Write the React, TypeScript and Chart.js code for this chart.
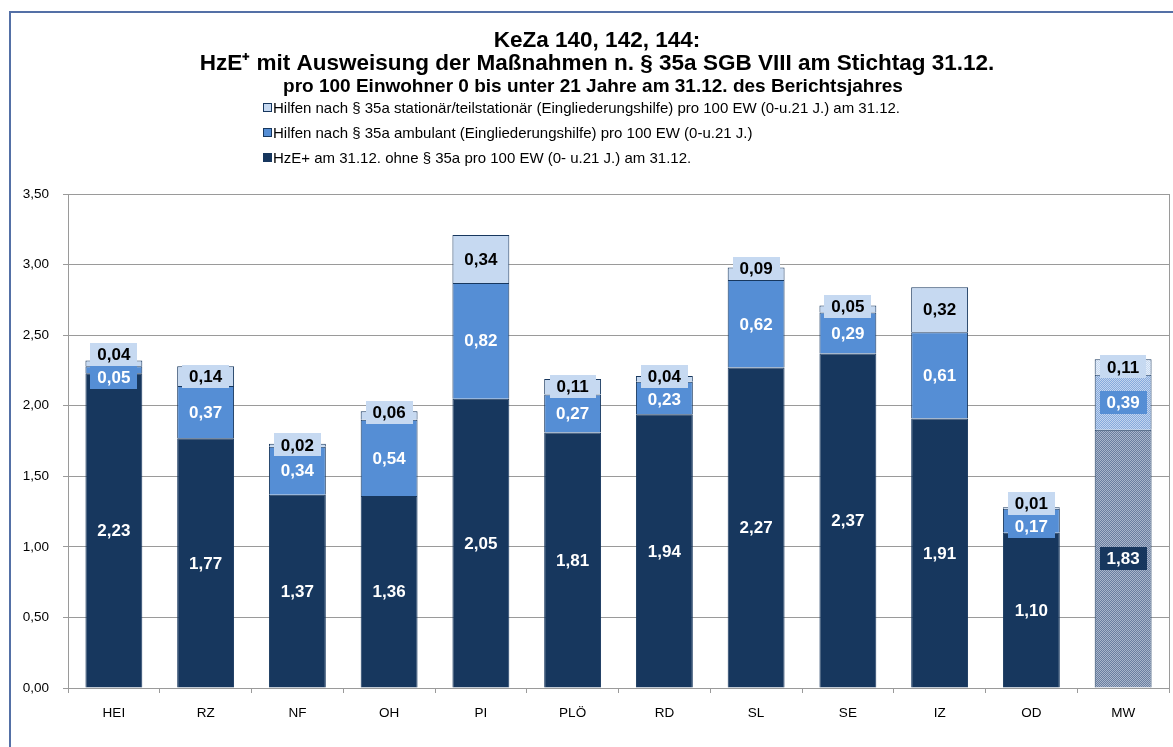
import React, { useEffect, useRef } from 'react';
import { Chart, registerables } from 'chart.js';

Chart.register(...registerables);

const categories = ['HEI', 'RZ', 'NF', 'OH', 'PI', 'PLÖ', 'RD', 'SL', 'SE', 'IZ', 'OD', 'MW'];
const ohneValues = [2.23, 1.77, 1.37, 1.36, 2.05, 1.81, 1.94, 2.27, 2.37, 1.91, 1.10, 1.83];
const ambulantValues = [0.05, 0.37, 0.34, 0.54, 0.82, 0.27, 0.23, 0.62, 0.29, 0.61, 0.17, 0.39];
const stationaerValues = [0.04, 0.14, 0.02, 0.06, 0.34, 0.11, 0.04, 0.09, 0.05, 0.32, 0.01, 0.11];

const seriesLabels = [
  'HzE+ am 31.12. ohne § 35a pro 100 EW (0- u.21 J.) am 31.12.',
  'Hilfen nach § 35a ambulant (Eingliederungshilfe) pro 100 EW (0-u.21 J.)',
  'Hilfen nach § 35a stationär/teilstationär (Eingliederungshilfe) pro 100 EW (0-u.21 J.) am 31.12.',
];
const titleLines = [
  'KeZa 140, 142, 144:',
  'HzE⁺ mit Ausweisung der Maßnahmen n. § 35a SGB VIII am Stichtag 31.12.',
];
const subtitleLine = 'pro 100 Einwohner 0 bis unter 21 Jahre am 31.12. des Berichtsjahres';
const averageCategory = 'MW';

const FONT = '"Liberation Sans", Arial, Helvetica, sans-serif';
const NAVY = '#17375E';
const MID = '#558ED5';
const LIGHT = '#C6D9F1';
const textColors = ['#FFFFFF', '#FFFFFF', '#000000'];
const seriesColors = [NAVY, MID, LIGHT];

function makePattern(a: string, b: string): CanvasPattern | string {
  const c = document.createElement('canvas');
  c.width = 2;
  c.height = 2;
  const g = c.getContext('2d');
  if (!g) return a;
  g.fillStyle = a;
  g.fillRect(0, 0, 2, 2);
  g.fillStyle = b;
  g.fillRect(0, 0, 1, 1);
  g.fillRect(1, 1, 1, 1);
  const p = g.createPattern(c, 'repeat');
  return p || a;
}

const fmt = (v: number) => v.toFixed(2).replace('.', ',');

const chromePlugin = {
  id: 'chrome',
  beforeDraw(chart: any) {
    const ctx = chart.ctx as CanvasRenderingContext2D;
    ctx.save();
    ctx.fillStyle = '#FFFFFF';
    ctx.fillRect(0, 0, chart.width, chart.height);
    // outer frame
    ctx.strokeStyle = '#5470A6';
    ctx.lineWidth = 2;
    ctx.strokeRect(10, 12, chart.width + 20, chart.height + 20);
    // titles
    const cx = 597;
    ctx.fillStyle = '#000';
    ctx.textAlign = 'center';
    ctx.textBaseline = 'middle';
    ctx.font = `bold 22.5px ${FONT}`;
    ctx.fillText(titleLines[0], cx, 41);
    ctx.fillText(titleLines[1], cx, 64);
    ctx.font = `bold 19px ${FONT}`;
    ctx.fillText(subtitleLine, cx - 4, 87);
    // legend (reverse order)
    ctx.textAlign = 'left';
    ctx.font = `15px ${FONT}`;
    const rows = [108, 133, 158];
    for (let k = 0; k < 3; k++) {
      const di = 2 - k;
      const y = rows[k];
      ctx.fillStyle = seriesColors[di];
      ctx.fillRect(263.5, y - 4.5, 8, 8);
      ctx.strokeStyle = NAVY;
      ctx.lineWidth = 1;
      ctx.strokeRect(263.5, y - 4.5, 8, 8);
      ctx.fillStyle = '#000';
      ctx.fillText(chart.data.datasets[di].label, 273, y + 0.5);
    }
    ctx.restore();
  },
  afterDraw(chart: any) {
    const { ctx, chartArea } = chart;
    ctx.save();
    ctx.strokeStyle = '#9A9A9A';
    ctx.lineWidth = 1;
    ctx.beginPath();
    ctx.moveTo(Math.round(chartArea.right) + 0.5, chartArea.top);
    ctx.lineTo(Math.round(chartArea.right) + 0.5, chartArea.bottom);
    ctx.stroke();
    ctx.restore();
  },
};

const labelPlugin = {
  id: 'segLabels',
  afterDatasetsDraw(chart: any) {
    const ctx = chart.ctx as CanvasRenderingContext2D;
    const H = 23;
    ctx.save();
    ctx.font = `bold 17px ${FONT}`;
    ctx.textAlign = 'center';
    ctx.textBaseline = 'middle';
    const n = chart.data.labels.length;
    for (let j = 0; j < n; j++) {
      const b0 = chart.getDatasetMeta(0).data[j];
      const b1 = chart.getDatasetMeta(1).data[j];
      const b2 = chart.getDatasetMeta(2).data[j];
      const c0 = (b0.y + b0.base) / 2;
      let c1 = (b1.y + b1.base) / 2;
      const h2 = b2.base - b2.y;
      let c2 = h2 < 14 ? b2.y + 1 : (b2.y + b2.base) / 2;
      if (c1 - c2 < H) {
        const need = H - (c1 - c2);
        c2 -= need / 2;
        c1 += need / 2;
      }
      const centers = [c0, c1, c2];
      for (let d = 0; d < 3; d++) {
        const v = chart.data.datasets[d].data[j] as number;
        const t = fmt(v);
        const w = ctx.measureText(t).width + 14;
        const x = b0.x;
        const y = centers[d];
        ctx.fillStyle = seriesColors[d];
        ctx.fillRect(Math.round(x - w / 2), Math.round(y - H / 2), Math.round(w), H);
        ctx.fillStyle = textColors[d];
        ctx.fillText(t, x, y + 1);
      }
    }
    ctx.restore();
  },
};

export default function App() {
  const ref = useRef<HTMLCanvasElement | null>(null);

  useEffect(() => {
    document.body.style.margin = '0';
    const canvas = ref.current;
    if (!canvas) return;
    const pats = [
      makePattern('#6A7EA0', '#A9B6CB'),
      makePattern('#86AADD', '#C2D4EE'),
      makePattern('#C6D9F1', '#E6EEF9'),
    ];
    const bg = (d: number) =>
      categories.map((c) => (c === averageCategory ? pats[d] : seriesColors[d]));
    const valueSets = [ohneValues, ambulantValues, stationaerValues];
    const chart = new Chart(canvas, {
      type: 'bar',
      data: {
        labels: categories,
        datasets: valueSets.map((vals, d) => ({
          label: seriesLabels[d],
          data: vals,
          backgroundColor: bg(d) as any,
          borderColor: NAVY,
          borderWidth: 1,
          barPercentage: 0.62,
          categoryPercentage: 1,
        })),
      },
      options: {
        responsive: false,
        animation: false,
        layout: { padding: { top: 194, left: 8, right: 4, bottom: 24 } },
        plugins: {
          legend: { display: false },
          title: { display: false },
          tooltip: { enabled: false },
        },
        scales: {
          x: {
            stacked: true,
            grid: { offset: true, drawOnChartArea: false, color: '#9A9A9A', tickLength: 5 },
            border: { color: '#9A9A9A' },
            ticks: { color: '#000', font: { size: 13.5, family: FONT }, padding: 12 },
            afterFit: (s: any) => {
              s.height = 35;
            },
          },
          y: {
            stacked: true,
            min: 0,
            max: 3.5,
            ticks: {
              stepSize: 0.5,
              color: '#000',
              font: { size: 13.5, family: FONT },
              padding: 14,
              callback: (v: any) => fmt(Number(v)),
            },
            grid: { color: '#9A9A9A', tickLength: 5 },
            border: { color: '#9A9A9A' },
            afterFit: (s: any) => {
              s.width = 60;
            },
          },
        },
      },
      plugins: [chromePlugin, labelPlugin],
    });
    return () => chart.destroy();
  }, []);

  return (
    <div style={{ width: 1173, height: 747, overflow: 'hidden' }}>
      <canvas ref={ref} width={1173} height={747} style={{ display: 'block' }} />
    </div>
  );
}
